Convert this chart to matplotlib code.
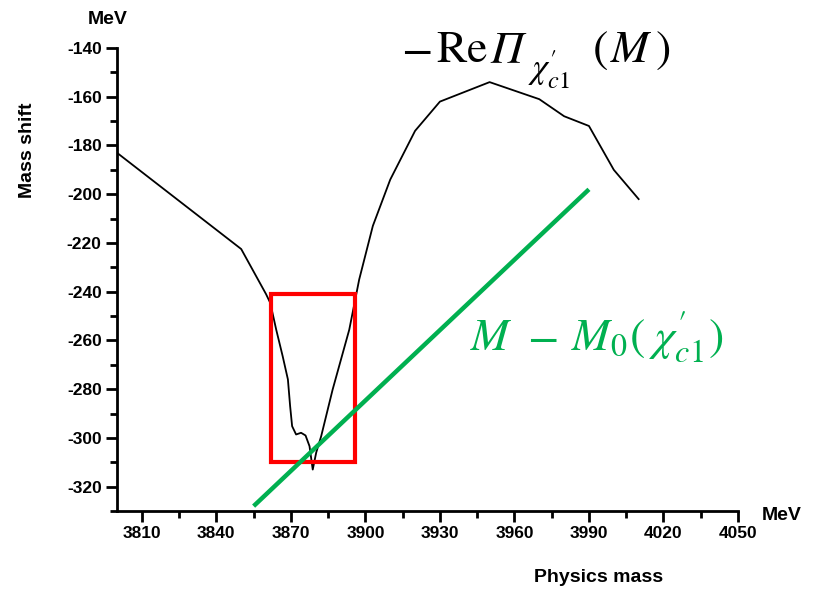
import numpy as np
import matplotlib.pyplot as plt
from matplotlib.patches import Rectangle
from matplotlib.ticker import MultipleLocator

# Curva -Re Pi(M): masa física (MeV) y desplazamiento de masa (MeV)
masa = [3800, 3850, 3860, 3861.7, 3864.1, 3866.7, 3868.8, 3869.7, 3870.5,
        3872.1, 3874.1, 3875.9, 3877.5, 3878.8, 3880.2, 3882.2, 3886.8,
        3893.5, 3897.5, 3903, 3910, 3920, 3930, 3950, 3970, 3980, 3990,
        4000, 4010]
desplazamiento = [-183, -222.5, -241, -244.6, -255.6, -266.5, -276, -287,
                  -295.2, -298.6, -297.9, -299, -303.4, -313, -306, -299.3,
                  -280.2, -255.6, -235, -213, -194, -174, -162, -154, -161,
                  -168, -172, -190, -202]

# Recta M - M0(chi'_c1)
recta_x = [3855, 3990]
recta_y = [-328, -198]

# Recuadro rojo (zona del umbral)
caja_x = [3862, 3896]
caja_y = [-310, -241]

xticks = np.arange(3810, 4051, 30)
yticks = np.arange(-320, -139, 20)

plt.rcParams['mathtext.fontset'] = 'stix'
plt.rcParams['axes.unicode_minus'] = False
fuente = 'Liberation Sans'
W, H = 815, 589

fig = plt.figure(figsize=(W / 100, H / 100), dpi=100)
ax = fig.add_axes([117 / W, 1 - 511 / H, 621 / W, 463 / H])

ax.plot(masa, desplazamiento, color='black', lw=1.3, zorder=2)
ax.add_patch(Rectangle((caja_x[0], caja_y[0]), caja_x[1] - caja_x[0],
                       caja_y[1] - caja_y[0], fill=False, edgecolor='#ff0000',
                       lw=3, zorder=3))
ax.plot(recta_x, recta_y, color='#00b050', lw=3.2, zorder=4,
        solid_capstyle='butt')

ax.set_xlim(3800, 4050)
ax.set_ylim(-330, -140)
ax.set_xticks(xticks)
ax.set_yticks(yticks)
ax.set_xticks(np.arange(3825, 4050, 30), minor=True)
ax.yaxis.set_minor_locator(MultipleLocator(10))

for s in ['top', 'right']:
    ax.spines[s].set_visible(False)
for s in ['left', 'bottom']:
    ax.spines[s].set_linewidth(2)

ax.tick_params(which='major', length=8, width=2, direction='out')
ax.tick_params(which='minor', length=5, width=2, direction='out')
ax.tick_params(axis='both', labelsize=12.5, pad=3)
for lab in ax.get_xticklabels() + ax.get_yticklabels():
    lab.set_fontfamily(fuente)
    lab.set_fontweight('bold')

fig.text(28 / W, 1 - 150 / H, 'Mass shift', rotation=90, ha='center',
         va='center', fontsize=14, fontweight='bold', family=fuente)
fig.text(108 / W, 1 - 20 / H, 'MeV', ha='center', va='center',
         fontsize=14, fontweight='bold', family=fuente)
fig.text(782 / W, 1 - 515 / H, 'MeV', ha='center', va='center',
         fontsize=14, fontweight='bold', family=fuente)
fig.text(599 / W, 1 - 578 / H, 'Physics mass', ha='center', va='center',
         fontsize=14, fontweight='bold', family=fuente)


def escribir(piezas, x0, base, color):
    # coloca trozos de texto uno tras otro (x en px, base en px desde arriba)
    r = fig.canvas.get_renderer()
    x = x0
    for texto, tam, dy, hueco, kw in piezas:
        t = fig.text((x + hueco) / W, 1 - (base + dy) / H, texto, ha='left',
                     va='baseline', fontsize=tam, color=color, **kw)
        x = t.get_window_extent(renderer=r).x1


cursiva = {'family': 'STIXGeneral', 'style': 'italic'}

# -Re Pi_{chi'_c1}(M), con Pi en cursiva
escribir([(r"$-$", 33, 0, 0, {}),
          (r"$\mathrm{Re}$", 33, 0, 5, {}),
          ("Π", 33, 0, 2, cursiva),
          (r"$\chi^{\prime}_{c1}$", 25, 17, 4, {}),
          (r"$($", 33, 0, 22, {}),
          (r"$M$", 33, 0, 2, {}),
          (r"$)$", 33, 0, 2, {})], 401, 62, 'black')

escribir([(r"$M$", 33, 0, 0, {}),
          (r"$-$", 33, 0, 14, {}),
          (r"$M_0$", 33, 0, 14, {}),
          (r"$($", 33, 0, 1, {}),
          (r"$\chi^{\prime}_{c1}$", 33, 0, 4, {}),
          (r"$)$", 33, 0, 4, {})], 470, 350, '#00b050')

fig.savefig('out.png', dpi=100)
